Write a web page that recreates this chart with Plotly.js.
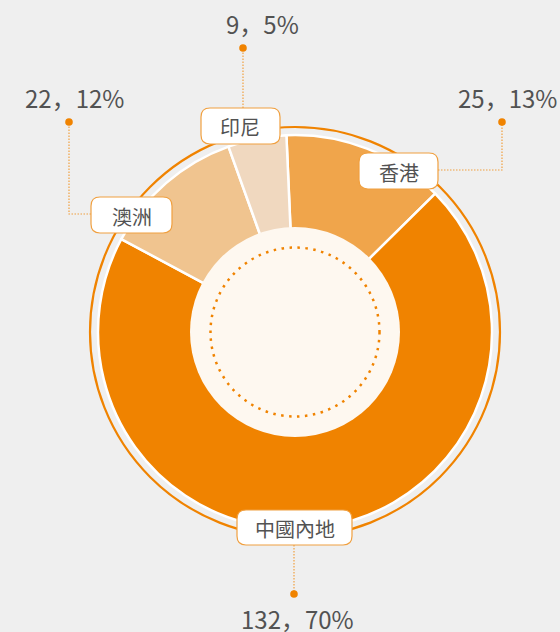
<!DOCTYPE html>
<html>
<head>
<meta charset="utf-8">
<script src="https://cdn.plot.ly/plotly-3.0.1.min.js"></script>
<style>
  html, body { margin: 0; padding: 0; background: #efefef; }
  #chart { width: 560px; height: 632px; }
</style>
</head>
<body>
<div id="chart"></div>
<script>
// ---- data ----
const categories = ['香港', '中國內地', '澳洲', '印尼'];
const values = [25, 132, 22, 9];
const percents = ['13%', '70%', '12%', '5%'];
const sliceColors = ['#f0a54b', '#f08300', '#f0c48f', '#f0d8bf'];

// ---- geometry helpers (pixels -> paper) ----
const W = 560, H = 632;
const CX = 295, CY = 332;
const R = 197;
const X = px => px / W;
const Y = py => 1 - py / H;

const ORANGE = '#f08300';
const LEADER = '#f0a040';
const TEXT = '#525252';
const FONT = 'Noto Sans CJK SC';

function circle(r, opts, cx = CX, cy = CY) {
  return Object.assign({
    type: 'circle', xref: 'paper', yref: 'paper',
    x0: X(cx - r), x1: X(cx + r), y0: Y(cy + r), y1: Y(cy - r)
  }, opts);
}
function roundRect(x0, y0, x1, y1, rad) {
  const p = [
    `M${X(x0 + rad)},${Y(y0)}`,
    `L${X(x1 - rad)},${Y(y0)}`,
    `Q${X(x1)},${Y(y0)} ${X(x1)},${Y(y0 + rad)}`,
    `L${X(x1)},${Y(y1 - rad)}`,
    `Q${X(x1)},${Y(y1)} ${X(x1 - rad)},${Y(y1)}`,
    `L${X(x0 + rad)},${Y(y1)}`,
    `Q${X(x0)},${Y(y1)} ${X(x0)},${Y(y1 - rad)}`,
    `L${X(x0)},${Y(y0 + rad)}`,
    `Q${X(x0)},${Y(y0)} ${X(x0 + rad)},${Y(y0)}`,
    'Z'
  ].join(' ');
  return { type: 'path', xref: 'paper', yref: 'paper', path: p,
    fillcolor: '#ffffff', line: { color: '#f0a040', width: 1.2 }, layer: 'above' };
}
function polyline(pts) {
  const p = pts.map((q, i) => (i ? 'L' : 'M') + X(q[0]) + ',' + Y(q[1])).join(' ');
  return { type: 'path', xref: 'paper', yref: 'paper', path: p,
    line: { color: LEADER, width: 1.2, dash: '1.5px,1.5px' }, layer: 'above' };
}

// label box placements (layout, not data)
const boxes = [
  { box: [359, 153, 438, 189], leader: [[438, 170], [502, 170], [502, 122]], dot: [502, 122], val: [507, 97] },
  { box: [237, 510, 352, 545], leader: [[294, 545], [294, 594]], dot: [294, 594], val: [297, 618] },
  { box: [91, 197, 172, 233], leader: [[91, 214], [69, 214], [69, 122]], dot: [69, 122], val: [74, 97] },
  { box: [201, 108, 280, 144], leader: [[243, 108], [243, 48]], dot: [243, 48], val: [262, 24] }
];

const shapes = [
  circle(205, { line: { color: ORANGE, width: 2.2 }, fillcolor: 'rgba(0,0,0,0)', layer: 'below' }),
  circle(105, { line: { width: 0 }, fillcolor: '#fef8f0', layer: 'above' }),
  circle(84.5, { line: { color: ORANGE, width: 2.5, dash: '2.5px,5.5px' }, fillcolor: 'rgba(0,0,0,0)', layer: 'above' })
];
const annotations = [];
boxes.forEach((b, i) => {
  shapes.push(polyline(b.leader));
  shapes.push(circle(3.8, { line: { width: 0 }, fillcolor: ORANGE, layer: 'above' }, b.dot[0], b.dot[1]));
  shapes.push(roundRect(b.box[0], b.box[1], b.box[2], b.box[3], 9));
  annotations.push({
    xref: 'paper', yref: 'paper', showarrow: false,
    x: X((b.box[0] + b.box[2]) / 2), y: Y((b.box[1] + b.box[3]) / 2 + 1),
    xanchor: 'center', yanchor: 'middle',
    text: categories[i], font: { family: FONT, size: 20, color: TEXT }
  });
  annotations.push({
    xref: 'paper', yref: 'paper', showarrow: false,
    x: X(b.val[0]), y: Y(b.val[1]),
    xanchor: 'center', yanchor: 'middle',
    text: values[i] + '，' + percents[i], font: { family: FONT, size: 24, color: TEXT }
  });
});

const trace = {
  type: 'pie',
  labels: categories,
  values: values,
  sort: false,
  direction: 'clockwise',
  rotation: -2.5,
  hole: 0.5,
  textinfo: 'none',
  hoverinfo: 'none',
  marker: { colors: sliceColors, line: { color: '#ffffff', width: 2.5 } },
  domain: { x: [X(CX - R), X(CX + R)], y: [Y(CY + R), Y(CY - R)] },
  showlegend: false
};

Plotly.newPlot('chart', [trace], {
  width: W, height: H,
  margin: { l: 0, r: 0, t: 0, b: 0 },
  paper_bgcolor: '#efefef',
  plot_bgcolor: '#efefef',
  showlegend: false,
  shapes: shapes,
  annotations: annotations
}, { displayModeBar: false, staticPlot: true });
</script>
</body>
</html>
